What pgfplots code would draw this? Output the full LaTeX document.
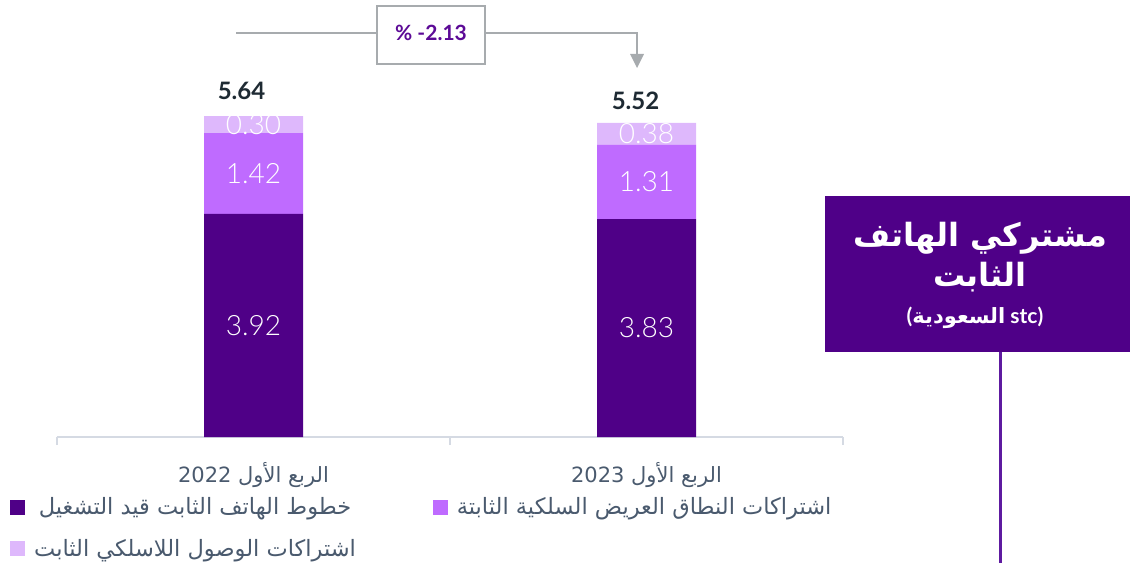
\documentclass[border=0pt]{standalone}
\usepackage{pgfplots}
\pgfplotsset{compat=1.18}
\usepackage{fontspec}
\setmainfont{Lato}
\newfontfamily\lightfont{Lato Light}
\newfontfamily\arabicfont[Script=Arabic]{DejaVu Sans}
\TeXXeTstate=1
\definecolor{cdark}{HTML}{4F0087}
\definecolor{cmid}{HTML}{BF6BFF}
\definecolor{clight}{HTML}{DEB8FC}
\definecolor{axisgray}{HTML}{D5DAE3}
\definecolor{labelgray}{HTML}{4A5A6E}
\definecolor{totaltext}{HTML}{1E2A33}
\definecolor{anngray}{HTML}{A7ABAE}
\definecolor{pcttext}{HTML}{5C0A96}
\definecolor{titlebox}{HTML}{4F0088}
\definecolor{vline}{HTML}{5E1AA0}
\begin{document}
\begin{tikzpicture}[x=1pt,y=1pt,
  seg/.style={font=\lightfont\fontsize{28}{30}\selectfont, text=white, anchor=center},
  tot/.style={font=\bfseries\fontsize{24}{26}\selectfont, text=totaltext, anchor=center}]
\useasboundingbox (0,0) rectangle (1130,563);
\begin{axis}[
  at={(57pt,126pt)}, anchor=south west,
  scale only axis, width=786pt, height=437pt,
  xmin=-0.5, xmax=1.5, ymin=0, ymax=7.68,
  ybar stacked, bar width=99pt,
  axis x line*=bottom, axis y line=none,
  x axis line style={draw=axisgray, line width=1.5pt},
  xtick={0,1},
  xticklabels={{\beginR الربع الأول \beginL 2022\endL\endR},{\beginR الربع الأول \beginL 2023\endL\endR}},
  xticklabel style={font=\arabicfont\fontsize{21}{24}\selectfont, text=labelgray, anchor=center, yshift=-38pt},
  major tick length=0pt,
  extra x ticks={-0.5,0.5,1.5}, extra x tick labels={},
  extra x tick style={major tick length=8pt, tick align=outside, tick style={draw=axisgray, line width=1.5pt}},
  ytick=\empty,
  clip=false,
  legend columns=2,
  legend style={draw=none, fill=none, inner sep=0pt, at={(-0.0598,-0.134)}, anchor=north west,
    font=\arabicfont\fontsize{22.5}{26}\selectfont, text=labelgray,
    /tikz/every even column/.append style={column sep=75pt},
    row sep=19pt},
]
\addplot[fill=cdark, draw=none, legend image code/.code={\fill[fill=cdark] (0pt,-7.5pt) rectangle (15pt,7.5pt); \path (22pt,0pt);}] coordinates {(0,3.92) (1,3.83)};
\addlegendentry{\beginR خطوط الهاتف الثابت قيد التشغيل\endR}
\addplot[fill=cmid, draw=none, legend image code/.code={\fill[fill=cmid] (0pt,-7.5pt) rectangle (15pt,7.5pt); \path (22pt,0pt);}] coordinates {(0,1.42) (1,1.31)};
\addlegendentry{\beginR اشتراكات النطاق العريض السلكية الثابتة\endR}
\addplot[fill=clight, draw=none, legend image code/.code={\fill[fill=clight] (0pt,-7.5pt) rectangle (15pt,7.5pt); \path (22pt,0pt);}] coordinates {(0,0.30) (1,0.38)};
\addlegendentry{\beginR اشتراكات الوصول اللاسلكي الثابت\endR}
\coordinate (a1) at (axis cs:0,1.96);
\coordinate (a2) at (axis cs:0,4.63);
\coordinate (a3) at (axis cs:0,5.49);
\coordinate (b1) at (axis cs:1,1.915);
\coordinate (b2) at (axis cs:1,4.485);
\coordinate (b3) at (axis cs:1,5.33);
\coordinate (ta) at (axis cs:0,5.64);
\coordinate (tb) at (axis cs:1,5.52);
\end{axis}
\node[seg] at (a1) {3.92};
\node[seg] at (a2) {1.42};
\node[seg] at (a3) {0.30};
\node[seg] at (b1) {3.83};
\node[seg] at (b2) {1.31};
\node[seg] at (b3) {0.38};
\node[tot, xshift=-12pt, yshift=25pt] at (ta) {5.64};
\node[tot, xshift=-11pt, yshift=22pt] at (tb) {5.52};
% change annotation
\draw[anngray, line width=2.5pt] (236,530) -- (377,530);
\draw[anngray, line width=2.5pt] (377,499) rectangle (485,557);
\draw[anngray, line width=2.5pt] (485,530) -- (637,530) -- (637,507);
\fill[anngray] (630,509) -- (644,509) -- (637,495) -- cycle;
\node[font=\bfseries\fontsize{21}{24}\selectfont, text=pcttext] at (431,530) {\% -2.13};
% title box
\fill[titlebox] (825,367) rectangle (1130,211);
\draw[vline, line width=3pt] (1000,211) -- (1000,0);
\node[font=\arabicfont\bfseries\fontsize{32}{36}\selectfont, text=white] at (980,325) {\beginR مشتركي الهاتف\endR};
\node[font=\arabicfont\bfseries\fontsize{32}{36}\selectfont, text=white] at (980,286) {\beginR الثابت\endR};
\node[font=\bfseries\fontsize{21}{24}\selectfont, text=white] at (975,245) {(\beginR\beginL stc\endL{} {\arabicfont السعودية}\endR)};
\end{tikzpicture}
\end{document}
